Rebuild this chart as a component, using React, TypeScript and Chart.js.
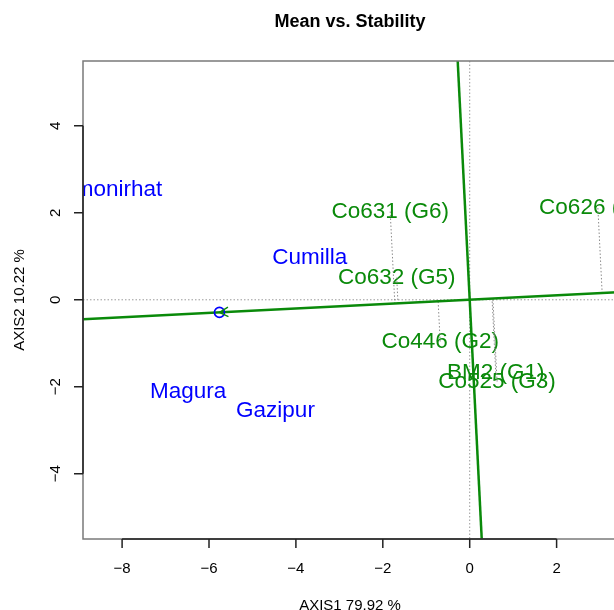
import React, { useEffect, useRef } from 'react';
import { Chart, registerables } from 'chart.js';

Chart.register(...registerables);

// ---- Data ----
const genotypeLabels = ['BM2 (G1)', 'Co446 (G2)', 'Co525 (G3)', 'Co626 (G4)', 'Co632 (G5)', 'Co631 (G6)'];
const genotypeX = [0.6, -0.68, 0.63, 2.95, -1.68, -1.83];
const genotypeY = [-1.68, -0.96, -1.88, 2.11, 0.51, 2.03];

const environmentLabels = ['Lalmonirhat', 'Cumilla', 'Magura', 'Gazipur'];
const environmentX = [-8.43, -3.68, -6.48, -4.47];
const environmentY = [2.53, 0.97, -2.11, -2.55];

const averageEnvironment = [-5.76, -0.29];

const xTicks = [-8, -6, -4, -2, 0, 2];
const yTicks = [-4, -2, 0, 2, 4];

const titleText = 'Mean vs. Stability';
const xAxisTitle = 'AXIS1 79.92 %';
const yAxisTitle = 'AXIS2 10.22 %';

// ---- Styles ----
const GREEN = '#0a8a0a';
const BLUE = '#0000ff';
const FONT = '"Liberation Sans", Arial, Helvetica, sans-serif';

const fmt = (v: number) => String(v).replace('-', '\u2212');

export default function App() {
  const ref = useRef<HTMLCanvasElement>(null);

  useEffect(() => {
    const canvas = ref.current;
    if (!canvas) return;

    const biplotPlugin = {
      id: 'biplot',
      afterDraw(chart: any) {
        const ctx = chart.ctx as CanvasRenderingContext2D;
        const xs = chart.scales.x;
        const ys = chart.scales.y;
        const area = chart.chartArea;
        const px = (v: number) => xs.getPixelForValue(v);
        const py = (v: number) => ys.getPixelForValue(v);
        const xMin = xs.min, xMax = xs.max, yMin = ys.min, yMax = ys.max;

        const [ax, ay] = averageEnvironment;
        const len = Math.hypot(ax, ay);
        const ux = ax / len, uy = ay / len;

        ctx.save();
        ctx.beginPath();
        ctx.rect(area.left, area.top, area.right - area.left, area.bottom - area.top);
        ctx.clip();

        // zero reference dotted lines
        ctx.strokeStyle = '#9a9a9a';
        ctx.lineWidth = 1;
        ctx.setLineDash([1.5, 2]);
        ctx.beginPath();
        ctx.moveTo(area.left, py(0));
        ctx.lineTo(area.right, py(0));
        ctx.moveTo(px(0), area.top);
        ctx.lineTo(px(0), area.bottom);
        ctx.stroke();

        // labels
        ctx.setLineDash([]);
        ctx.textAlign = 'center';
        ctx.textBaseline = 'middle';
        ctx.font = `22.5px ${FONT}`;
        const envDs = chart.data.datasets[1];
        ctx.fillStyle = BLUE;
        envDs.data.forEach((p: any, i: number) => {
          ctx.fillText(environmentLabels[i], px(p.x), py(p.y));
        });
        const genDs = chart.data.datasets[0];
        ctx.fillStyle = GREEN;
        genDs.data.forEach((p: any, i: number) => {
          ctx.fillText(genotypeLabels[i], px(p.x), py(p.y));
        });

        // projection dotted lines onto the average environment axis
        ctx.strokeStyle = '#8a8a8a';
        ctx.lineWidth = 1;
        ctx.setLineDash([1.5, 2]);
        genDs.data.forEach((p: any) => {
          const t = p.x * ux + p.y * uy;
          ctx.beginPath();
          ctx.moveTo(px(p.x), py(p.y));
          ctx.lineTo(px(t * ux), py(t * uy));
          ctx.stroke();
        });
        ctx.setLineDash([]);

        // average environment axis (abscissa) and its perpendicular (ordinate)
        ctx.strokeStyle = GREEN;
        ctx.lineWidth = 2.5;
        const slope = uy / ux;
        ctx.beginPath();
        ctx.moveTo(px(xMin), py(slope * xMin));
        ctx.lineTo(px(xMax), py(slope * xMax));
        ctx.stroke();
        ctx.beginPath();
        ctx.moveTo(px(-slope * yMax), py(yMax));
        ctx.lineTo(px(-slope * yMin), py(yMin));
        ctx.stroke();

        // average environment marker: circle + arrow head
        const cx = px(ax), cy = py(ay);
        ctx.strokeStyle = BLUE;
        ctx.lineWidth = 1.6;
        ctx.beginPath();
        ctx.arc(cx, cy, 5, 0, Math.PI * 2);
        ctx.stroke();
        const ang = Math.atan2(py(0) - cy, px(0) - cx);
        ctx.strokeStyle = GREEN;
        ctx.lineWidth = 1.4;
        ctx.beginPath();
        const armLen = 10;
        ctx.moveTo(cx + armLen * Math.cos(ang + 0.5), cy + armLen * Math.sin(ang + 0.5));
        ctx.lineTo(cx, cy);
        ctx.lineTo(cx + armLen * Math.cos(ang - 0.5), cy + armLen * Math.sin(ang - 0.5));
        ctx.stroke();
        ctx.restore();

        // box
        ctx.save();
        ctx.strokeStyle = '#7a7a7a';
        ctx.lineWidth = 1.5;
        ctx.strokeRect(area.left, area.top, area.right - area.left, area.bottom - area.top);

        // axes
        ctx.strokeStyle = '#222';
        ctx.lineWidth = 1.5;
        ctx.beginPath();
        ctx.moveTo(px(xTicks[0]), area.bottom);
        ctx.lineTo(px(xTicks[xTicks.length - 1]), area.bottom);
        xTicks.forEach((t) => {
          ctx.moveTo(px(t), area.bottom);
          ctx.lineTo(px(t), area.bottom + 9);
        });
        ctx.moveTo(area.left, py(yTicks[0]));
        ctx.lineTo(area.left, py(yTicks[yTicks.length - 1]));
        yTicks.forEach((t) => {
          ctx.moveTo(area.left, py(t));
          ctx.lineTo(area.left - 9, py(t));
        });
        ctx.stroke();

        ctx.fillStyle = '#000';
        ctx.font = `15px ${FONT}`;
        ctx.textAlign = 'center';
        ctx.textBaseline = 'middle';
        xTicks.forEach((t) => {
          ctx.fillText(fmt(t), px(t), area.bottom + 30);
        });
        yTicks.forEach((t) => {
          ctx.save();
          ctx.translate(area.left - 27, py(t));
          ctx.rotate(-Math.PI / 2);
          ctx.fillText(fmt(t), 0, 0);
          ctx.restore();
        });

        const midX = (area.left + area.right) / 2;
        const midY = (area.top + area.bottom) / 2;
        ctx.fillText(xAxisTitle, midX, area.bottom + 67);
        ctx.save();
        ctx.translate(20, midY);
        ctx.rotate(-Math.PI / 2);
        ctx.fillText(yAxisTitle, 0, 0);
        ctx.restore();

        ctx.font = `bold 18px ${FONT}`;
        ctx.fillText(titleText, midX, 22);
        ctx.restore();
      },
    };

    const chart = new Chart(canvas, {
      type: 'scatter',
      data: {
        datasets: [
          {
            label: 'Genotypes',
            data: genotypeX.map((x, i) => ({ x, y: genotypeY[i] })),
            pointRadius: 0,
            pointHoverRadius: 0,
          },
          {
            label: 'Environments',
            data: environmentX.map((x, i) => ({ x, y: environmentY[i] })),
            pointRadius: 0,
            pointHoverRadius: 0,
          },
        ],
      },
      options: {
        responsive: false,
        maintainAspectRatio: false,
        animation: false,
        devicePixelRatio: 1,
        layout: { padding: { left: 83, top: 61, right: 3, bottom: 71 } },
        plugins: {
          legend: { display: false },
          tooltip: { enabled: false },
          title: { display: false },
        },
        scales: {
          x: { type: 'linear', min: -8.9, max: 3.39, display: false },
          y: { type: 'linear', min: -5.5, max: 5.49, display: false },
        },
        events: [],
      },
      plugins: [biplotPlugin],
    });

    return () => chart.destroy();
  }, []);

  return (
    <div
      style={{
        position: 'absolute',
        left: 0,
        top: 0,
        width: 614,
        height: 610,
        overflow: 'hidden',
        background: '#fff',
      }}
    >
      <canvas ref={ref} width={620} height={610} style={{ display: 'block', width: 620, height: 610 }} />
    </div>
  );
}
